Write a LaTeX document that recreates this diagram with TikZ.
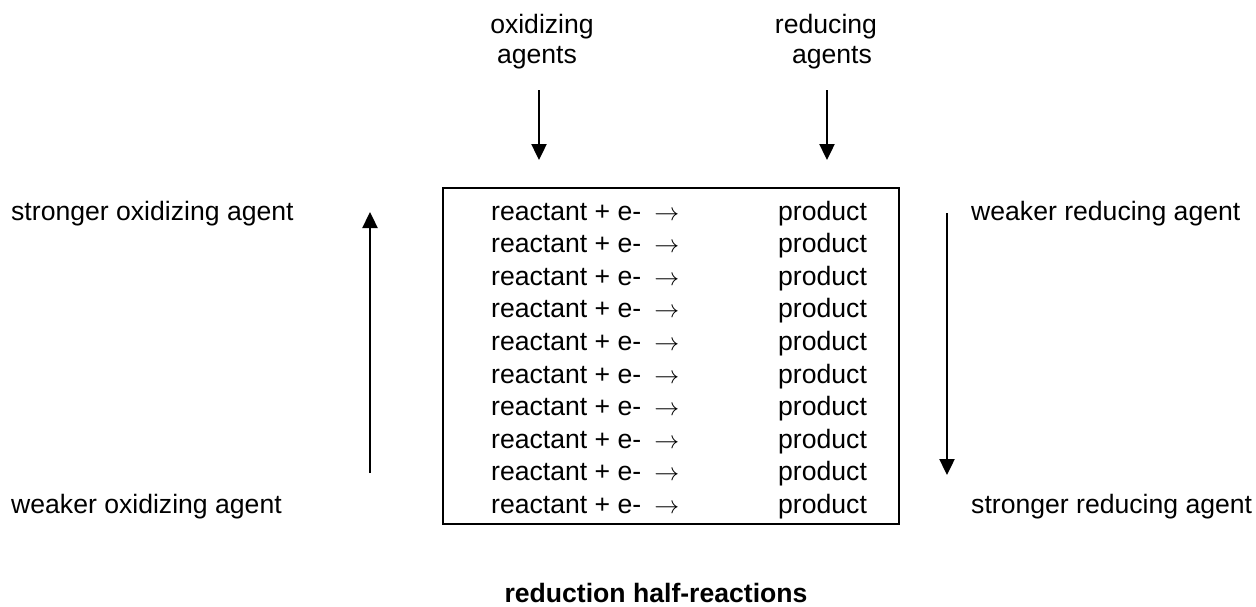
\documentclass[tikz,border=0pt]{standalone}
\usepackage{fontspec}
\setmainfont{Liberation Sans}
\usetikzlibrary{arrows.meta, positioning}
\tikzset{
  lbl/.style={anchor=base, inner sep=0pt, font=\fontsize{26.6}{30}\selectfont},
  side/.style={anchor=base west, inner sep=0pt, font=\fontsize{26.6}{30}\selectfont},
  rxn/.style={anchor=base west, inner sep=0pt, font=\fontsize{26.6}{30}\selectfont},
  frame/.style={draw, line width=2pt, inner sep=0pt},
  arrow/.style={-{Triangle[length=16pt,width=15pt]}, line width=2.4pt}
}

\begin{document}
\begin{tikzpicture}[x=1pt, y=-1pt]
    \useasboundingbox (0,0) rectangle (1256,606);

    % column headers
    \node[lbl] (oxhead) at (542,33) {oxidizing};
    \node[lbl] (oxagents) at (537,63) {agents};
    \node[lbl] (redhead) at (826,33) {reducing};
    \node[lbl] (redagents) at (832,63) {agents};

    \coordinate (oxin) at (539,90);
    \coordinate (oxout) at (539,160);
    \coordinate (redin) at (827,90);
    \coordinate (redout) at (827,160);
    \draw[arrow] (oxin) -- (oxout);
    \draw[arrow] (redin) -- (redout);

    % table of half-reactions
    \node[frame, minimum width=456pt, minimum height=336pt] (table) at (671,356) {};
    \foreach \i in {0,...,9} {
        \node[rxn] (r\i) at (491,220+32.6*\i) {reactant + e-\hspace{13pt}$\rightarrow$};
        \node[rxn] (p\i) at (778,220+32.6*\i) {product};
    }

    % strength labels
    \node[side] (strongox) at (11,220) {stronger oxidizing agent};
    \node[side] (weakox) at (11,513.4) {weaker oxidizing agent};
    \node[side] (weakred) at (971,220) {weaker reducing agent};
    \node[side] (strongred) at (971,513.4) {stronger reducing agent};

    \coordinate (oxlow) at (370,473);
    \coordinate (oxhigh) at (370,212);
    \coordinate (redhigh) at (947,213);
    \coordinate (redlow) at (947,475);
    \draw[arrow] (oxlow) -- (oxhigh);
    \draw[arrow] (redhigh) -- (redlow);

    \node[lbl, font=\fontsize{26.6}{30}\selectfont\bfseries] (caption) at (656,602) {reduction half-reactions};
\end{tikzpicture}
\end{document}
